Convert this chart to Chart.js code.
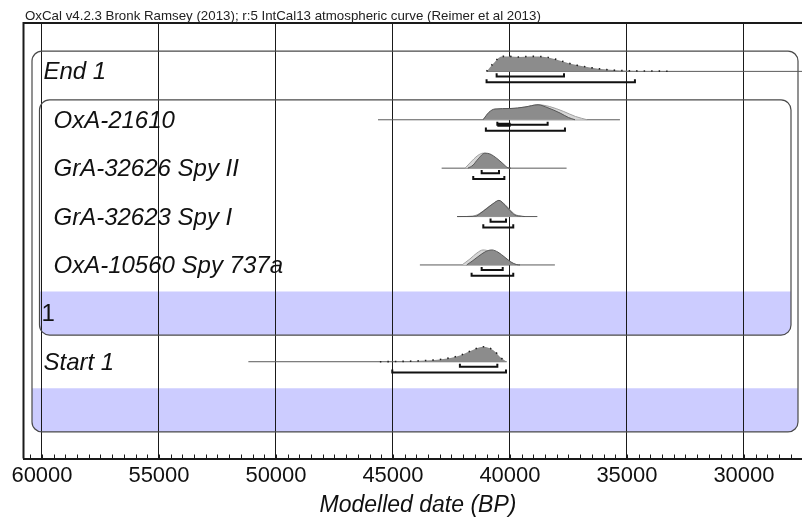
<!DOCTYPE html>
<html>
<head>
<meta charset="utf-8">
<script src="https://cdn.jsdelivr.net/npm/chart.js@4.4.1/dist/chart.umd.min.js"></script>
<style>
  html, body { margin: 0; padding: 0; background: #fff; }
  #wrap { width: 802px; height: 517px; }
</style>
</head>
<body>
<div id="wrap"><canvas id="myChart" width="802" height="517"></canvas></div>
<script>
/* OxCal multiplot: End 1 / four dates / Start 1 */

const titleText = 'OxCal v4.2.3 Bronk Ramsey (2013); r:5 IntCal13 atmospheric curve (Reimer et al 2013)';
const axisTitle = 'Modelled date (BP)';

// rows, top to bottom (row n sits at y = n + 1)
const rowLabels = ['End 1', 'OxA-21610', 'GrA-32626 Spy II', 'GrA-32623 Spy I', 'OxA-10560 Spy 737a', '1', 'Start 1', ''];
const tickYears = [60000, 55000, 50000, 45000, 40000, 35000, 30000];

// modelled (posterior) densities: [year BP, relative height]
const endPost = [[41000, 0], [40700, 0.55], [40355, 1], [40000, 1], [39600, 0.96], [39150, 1], [38430, 0.95], [38030, 0.8], [37310, 0.47], [36580, 0.26], [35870, 0.12], [35300, 0.06], [34440, 0.03], [33800, 0.03], [33590, 0.02], [33160, 0]];
const oxa21610Post = [[41150, 0], [40900, 0.5], [40640, 0.72], [40000, 0.75], [39360, 0.85], [38800, 1], [38380, 0.8], [37860, 0.45], [37500, 0.15], [37220, 0]];
const spy2Post = [[41800, 0], [41580, 0.2], [41370, 0.6], [41070, 1], [40860, 0.95], [40560, 0.65], [40300, 0.3], [40090, 0.03], [39960, 0]];
const spy1Post = [[42260, 0], [41450, 0.03], [41280, 0.2], [40980, 0.55], [40730, 0.85], [40470, 1.08], [40210, 0.75], [40000, 0.4], [39790, 0.1], [39500, 0.02], [39360, 0]];
const spy737Post = [[41850, 0], [41620, 0.25], [41280, 0.65], [41030, 0.9], [40780, 1], [40510, 0.85], [40210, 0.5], [39960, 0.2], [39710, 0.02], [39570, 0]];
const startPost = [[45560, 0], [44700, 0.02], [43850, 0.06], [42850, 0.18], [42140, 0.42], [41710, 0.7], [41140, 1], [40710, 0.77], [40360, 0.23], [40140, 0]];

// unmodelled (likelihood) densities
const oxa21610Like = [[41150, 0], [40900, 0.45], [40640, 0.66], [40000, 0.72], [39360, 0.85], [38800, 1], [38300, 0.88], [37700, 0.55], [37200, 0.22], [36700, 0]];
const spy2Like = [[41920, 0], [41710, 0.35], [41370, 0.85], [41150, 1], [40860, 0.9], [40560, 0.55], [40300, 0.2], [40090, 0]];
const spy1Like = [[41600, 0], [41300, 0.2], [41000, 0.55], [40730, 0.85], [40470, 1.05], [40210, 0.8], [40000, 0.45], [39790, 0.15], [39450, 0]];
const spy737Like = [[42050, 0], [41710, 0.4], [41410, 0.8], [41150, 1], [40860, 0.9], [40560, 0.6], [40210, 0.25], [39910, 0.05], [39740, 0]];

// baseline span, 68.2% and 95.4% ranges per row
const lineRange = [[41000, 27520], [45640, 35300], [42920, 37580], [42250, 38830], [43850, 38080], null, [51180, 40140]];
const range68 = [[40570, 37690], [40540, 38390], [41210, 40470], [40830, 40170], [41210, 40310], null, [42140, 40540]];
const range95 = [[41000, 34660], [41030, 37650], [41570, 40240], [41140, 39860], [41640, 39860], null, [45030, 40170]];
const range68Core = [null, [40540, 39970], null, null, null, null, null];

const posts = [endPost, oxa21610Post, spy2Post, spy1Post, spy737Post, null, startPost];
const likes = [null, oxa21610Like, spy2Like, spy1Like, spy737Like, null, null];
const bandRows = [6, 8];

const PEAK = 0.31;   // row units for a relative height of 1
const TICK = 0.065;
const FONT = "'Liberation Sans', Arial, Helvetica, sans-serif";

function curve(points, row) {
  return points.map(p => ({ x: p[0], y: row - PEAK * p[1] }));
}

function bracket(r, row, off) {
  const y = row + off;
  return [{ x: r[0], y: y - TICK }, { x: r[0], y: y }, { x: r[1], y: y }, { x: r[1], y: y - TICK }];
}

function buildDatasets() {
  const sets = [];
  rowLabels.forEach(function (label, i) {
    const row = i + 1;
    const boundary = label === 'End 1' || label === 'Start 1';
    if (lineRange[i]) {
      sets.push({ data: [{ x: lineRange[i][0], y: row }, { x: lineRange[i][1], y: row }],
        borderColor: '#5a5a5a', borderWidth: 1, order: 6 });
    }
    if (likes[i]) {
      sets.push({ data: curve(likes[i], row), fill: { value: row },
        backgroundColor: '#d6d6d6', borderColor: '#a0a0a0', borderWidth: 1,
        cubicInterpolationMode: 'monotone', order: 5 });
    }
    if (posts[i]) {
      sets.push({ data: curve(posts[i], row), fill: { value: row },
        backgroundColor: '#8c8c8c',
        borderColor: boundary ? '#222' : '#555',
        borderWidth: boundary ? 1.6 : 1,
        borderDash: boundary ? [1.5, 6] : [],
        cubicInterpolationMode: 'monotone', order: 4 });
    }
    if (range68[i]) {
      sets.push({ data: bracket(range68[i], row, 0.105), borderColor: '#111', borderWidth: 2, order: 2 });
    }
    if (range68Core[i]) {
      sets.push({ data: [{ x: range68Core[i][0], y: row + 0.105 }, { x: range68Core[i][1], y: row + 0.105 }],
        borderColor: '#111', borderWidth: 4, order: 1 });
    }
    if (range95[i]) {
      sets.push({ data: bracket(range95[i], row, 0.225), borderColor: '#111', borderWidth: 2, order: 2 });
    }
  });
  return sets;
}

function roundBox(ctx, x0, y0, x1, y1, r, roundTop) {
  ctx.beginPath();
  if (roundTop) {
    ctx.moveTo(x0, y0 + r);
    ctx.arcTo(x0, y0, x0 + r, y0, r);
    ctx.lineTo(x1 - r, y0);
    ctx.arcTo(x1, y0, x1, y0 + r, r);
  } else {
    ctx.moveTo(x0, y0);
    ctx.lineTo(x1, y0);
  }
  ctx.lineTo(x1, y1 - r);
  ctx.arcTo(x1, y1, x1 - r, y1, r);
  ctx.lineTo(x0 + r, y1);
  ctx.arcTo(x0, y1, x0, y1 - r, r);
  ctx.closePath();
}

const oxcalPlot = {
  id: 'oxcalPlot',
  boxes: function (chart) {
    const a = chart.chartArea;
    const y = chart.scales.y;
    return {
      outer: [a.left + 8.5, y.getPixelForValue(1 - 0.42), a.right - 4, y.getPixelForValue(8 + 0.45)],
      inner: [a.left + 16, y.getPixelForValue(2 - 0.41), a.right - 11, y.getPixelForValue(6 + 0.45)]
    };
  },
  beforeDraw: function (chart) {
    const ctx = chart.ctx;
    const y = chart.scales.y;
    const b = this.boxes(chart);
    ctx.save();
    ctx.fillStyle = '#ccccff';
    bandRows.forEach(function (row, k) {
      const box = k === 0 ? b.inner : b.outer;
      roundBox(ctx, box[0], y.getPixelForValue(row - 0.45), box[2], box[3], 9, false);
      ctx.fill();
    });
    ctx.restore();
  },
  beforeDatasetsDraw: function (chart) {
    const ctx = chart.ctx;
    const b = this.boxes(chart);
    ctx.save();
    ctx.strokeStyle = '#4a4a4a';
    ctx.lineWidth = 1.2;
    [b.outer, b.inner].forEach(function (box) {
      roundBox(ctx, box[0], box[1], box[2], box[3], 10, true);
      ctx.stroke();
    });
    ctx.restore();
  },
  afterDraw: function (chart) {
    const ctx = chart.ctx;
    const a = chart.chartArea;
    const x = chart.scales.x;
    const y = chart.scales.y;
    ctx.save();

    // frame: left and top
    ctx.strokeStyle = '#1a1a1a';
    ctx.lineWidth = 2;
    ctx.beginPath();
    ctx.moveTo(a.right, a.top);
    ctx.lineTo(a.left, a.top);
    ctx.lineTo(a.left, a.bottom);
    ctx.stroke();

    // minor ticks every 500 years, pointing inwards
    ctx.lineWidth = 1;
    x.ticks.forEach(function (t) {
      const px = Math.round(x.getPixelForValue(t.value)) + 0.5;
      ctx.beginPath();
      ctx.moveTo(px, a.bottom);
      ctx.lineTo(px, a.bottom - 4);
      ctx.stroke();
    });

    // row labels
    ctx.fillStyle = '#111';
    ctx.textBaseline = 'alphabetic';
    ctx.textAlign = 'left';
    rowLabels.forEach(function (label, i) {
      if (!label) return;
      const indent = label === 'End 1' || label === 'Start 1' ? 20 : (label === '1' ? 18 : 30);
      ctx.font = (label === '1' ? '' : 'italic ') + '24px ' + FONT;
      ctx.fillText(label, a.left + indent, y.getPixelForValue(i + 1) + 8);
    });

    // axis title
    ctx.font = 'italic 23px ' + FONT;
    ctx.textAlign = 'center';
    ctx.fillText(axisTitle, 418, 512);

    // header
    ctx.font = '13.3px ' + FONT;
    ctx.textAlign = 'left';
    ctx.fillStyle = '#222';
    ctx.fillText(titleText, 25, 19.5);
    ctx.restore();
  }
};

const chart = new Chart(document.getElementById('myChart').getContext('2d'), {
  type: 'line',
  data: { datasets: buildDatasets() },
  plugins: [oxcalPlot],
  options: {
    responsive: false,
    animation: false,
    events: [],
    layout: { padding: { top: 23, left: 23.5, right: 0, bottom: 0 } },
    elements: { point: { radius: 0 }, line: { tension: 0 } },
    plugins: { legend: { display: false }, tooltip: { enabled: false }, title: { display: false } },
    scales: {
      x: {
        type: 'linear',
        reverse: true,
        min: 27520,
        max: 60790,
        afterFit: function (s) { s.height = 58.5; },
        afterBuildTicks: function (s) {
          const t = [];
          for (let v = 28000; v <= 60500; v += 500) t.push({ value: v });
          s.ticks = t;
        },
        grid: {
          drawTicks: false,
          lineWidth: 1,
          color: function (c) { return c.tick && tickYears.indexOf(c.tick.value) >= 0 ? '#1a1a1a' : 'rgba(0,0,0,0)'; }
        },
        border: { display: true, color: '#1a1a1a', width: 2 },
        ticks: {
          autoSkip: false,
          maxRotation: 0,
          padding: 4,
          color: '#111',
          font: { family: FONT, size: 22 },
          callback: function (v) { return tickYears.indexOf(v) >= 0 ? String(v) : ''; }
        }
      },
      y: { display: false, reverse: true, min: 0, max: 9 }
    }
  }
});
</script>
</body>
</html>
